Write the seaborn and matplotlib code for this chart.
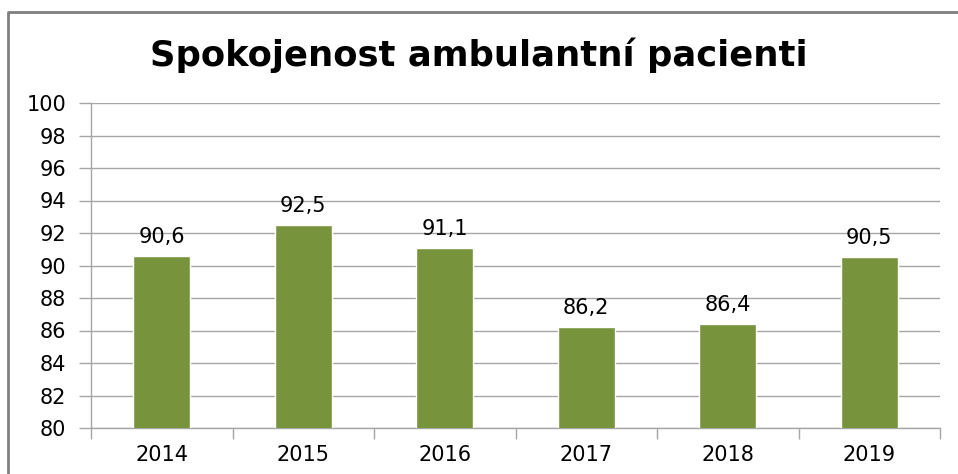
import numpy as np
import pandas as pd
import seaborn as sns
import matplotlib.pyplot as plt
from matplotlib.lines import Line2D
from matplotlib.ticker import FixedLocator

# Données
roky = ["2014", "2015", "2016", "2017", "2018", "2019"]
hodnoty = [90.6, 92.5, 91.1, 86.2, 86.4, 90.5]
popisky = ["90,6", "92,5", "91,1", "86,2", "86,4", "90,5"]

df = pd.DataFrame({"rok": roky, "hodnota": hodnoty})

sns.set_theme(style="white")
plt.rcParams['font.family'] = ['DejaVu Sans']

fig = plt.figure(figsize=(9.58, 4.74), dpi=100)
ax = fig.add_axes([91 / 958, 1 - 428 / 474, (940 - 91) / 958, (428 - 103) / 474])

sns.barplot(data=df, x="rok", y="hodnota", color="#77933C", width=0.4,
            saturation=1, ax=ax, zorder=3)

ax.set_ylim(80, 100)
ax.set_xlim(-0.5, len(roky) - 0.5)
ax.set_yticks(np.arange(80, 101, 2))
ax.yaxis.grid(True, color="#A6A6A6", linewidth=1, zorder=0)
ax.set_axisbelow(True)

ax.set_xlabel("")
ax.set_ylabel("")
for s in ["top", "right"]:
    ax.spines[s].set_visible(False)
for s in ["left", "bottom"]:
    ax.spines[s].set_color("#A6A6A6")
    ax.spines[s].set_linewidth(1)

ax.tick_params(axis="y", which="major", left=True, length=9, width=1,
               color="#A6A6A6", labelsize=15, pad=9, labelcolor="#000000")
ax.tick_params(axis="x", which="major", bottom=False, labelsize=15, pad=6,
               labelcolor="#000000")
ax.xaxis.set_minor_locator(FixedLocator(np.arange(-0.5, len(roky), 1)))
ax.tick_params(axis="x", which="minor", bottom=True, length=8, width=1,
               color="#A6A6A6")

# Popisky hodnot
for i, (v, t) in enumerate(zip(hodnoty, popisky)):
    ax.text(i, v + 0.55, t, ha="center", va="bottom", fontsize=15, color="#000000")

fig.text(0.5, 1 - 55 / 474, "Spokojenost ambulantní pacienti", ha="center",
         va="center", fontsize=25.5, fontweight="bold", family="DejaVu Sans",
         color="#000000")

# Rámeček grafu (jen horní a levá hrana jsou vidět)
x0 = 8 / 958
y0 = 1 - 12 / 474
fig.lines.append(Line2D([x0, x0, 1.1], [-0.1, y0, y0], transform=fig.transFigure,
                        color="#808080", linewidth=2, clip_on=False))

fig.savefig("out.png", dpi=100)
